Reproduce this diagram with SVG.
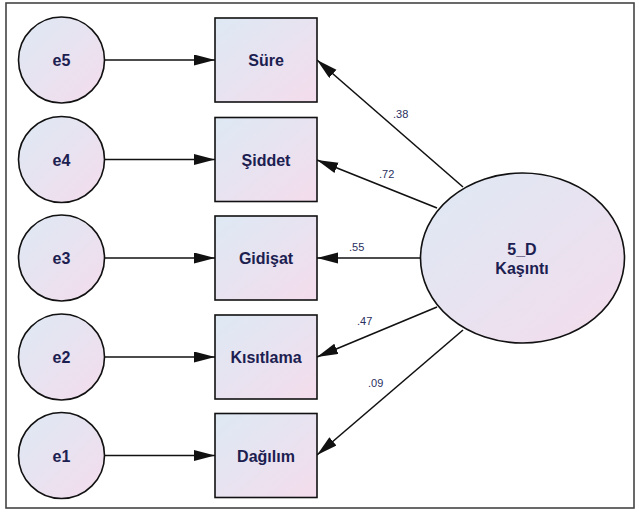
<svg xmlns="http://www.w3.org/2000/svg" width="636" height="510" viewBox="0 0 636 510">
<style>
.nd{stroke:#111;stroke-width:1.6;fill:url(#g)}
.t{font-family:"Liberation Sans",Arial,sans-serif;font-weight:bold;font-size:16px;fill:#1c2050;text-anchor:middle}
.lb{font-family:"Liberation Sans",Arial,sans-serif;font-size:11px;fill:#2a3060}
.c{stroke:#111;stroke-width:1.6;fill:none;marker-end:url(#ah)}
</style>
<defs>
<linearGradient id="g" x1="0" y1="0" x2="1" y2="1">
<stop offset="0" stop-color="#dde9f4"/>
<stop offset="1" stop-color="#f4dcec"/>
</linearGradient>
<marker id="ah" markerUnits="userSpaceOnUse" markerWidth="22" markerHeight="12" refX="21" refY="5.5" orient="auto">
<path d="M0,0 L21,5.5 L0,11 z" fill="#111"/>
</marker>
</defs>
<rect x="0" y="0" width="636" height="510" fill="#fff"/>
<rect id="frame" x="6" y="3" width="628" height="505" fill="#fff" stroke="#444" stroke-width="1.6"/>
<g id="connectors">
<line class="c" x1="104.5" y1="60" x2="215" y2="60"/>
<line class="c" x1="104.5" y1="159.5" x2="215" y2="159.5"/>
<line class="c" x1="104.5" y1="258" x2="215" y2="258"/>
<line class="c" x1="104.5" y1="357" x2="215" y2="357"/>
<line class="c" x1="104.5" y1="455.5" x2="215" y2="455.5"/>
<line class="c" x1="463" y1="187" x2="317" y2="60"/>
<line class="c" x1="437" y1="208" x2="317" y2="160"/>
<line class="c" x1="420" y1="258" x2="317" y2="258"/>
<line class="c" x1="437" y1="307" x2="317" y2="357"/>
<line class="c" x1="463" y1="330" x2="317" y2="455"/>
<text class="lb" x="393" y="118">.38</text>
<text class="lb" x="379" y="178">.72</text>
<text class="lb" x="349" y="251">.55</text>
<text class="lb" x="357" y="325">.47</text>
<text class="lb" x="368" y="387">.09</text>
</g>
<g id="e5"><circle class="nd" cx="61.5" cy="60" r="43"/><text class="t" x="61.5" y="66">e5</text></g>
<g id="e4"><circle class="nd" cx="61.5" cy="159.5" r="43"/><text class="t" x="61.5" y="165.5">e4</text></g>
<g id="e3"><circle class="nd" cx="61.5" cy="258" r="43"/><text class="t" x="61.5" y="264">e3</text></g>
<g id="e2"><circle class="nd" cx="61.5" cy="357" r="43"/><text class="t" x="61.5" y="363">e2</text></g>
<g id="e1"><circle class="nd" cx="61.5" cy="455.5" r="43"/><text class="t" x="61.5" y="461.5">e1</text></g>
<g id="sure"><rect class="nd" x="215" y="18" width="102" height="84"/><text class="t" x="266" y="66">Süre</text></g>
<g id="siddet"><rect class="nd" x="215" y="117.5" width="102" height="84"/><text class="t" x="266" y="165.5">Şiddet</text></g>
<g id="gidisat"><rect class="nd" x="215" y="216" width="102" height="84"/><text class="t" x="266" y="264">Gidişat</text></g>
<g id="kisitlama"><rect class="nd" x="215" y="315" width="102" height="84"/><text class="t" x="266" y="363">Kısıtlama</text></g>
<g id="dagilim"><rect class="nd" x="215" y="413.5" width="102" height="84"/><text class="t" x="266" y="461.5">Dağılım</text></g>
<g id="kasinti"><ellipse class="nd" cx="522.5" cy="258" rx="102" ry="85"/><text class="t" x="522" y="255">5_D</text><text class="t" x="522" y="274">Kaşıntı</text></g>
</svg>
